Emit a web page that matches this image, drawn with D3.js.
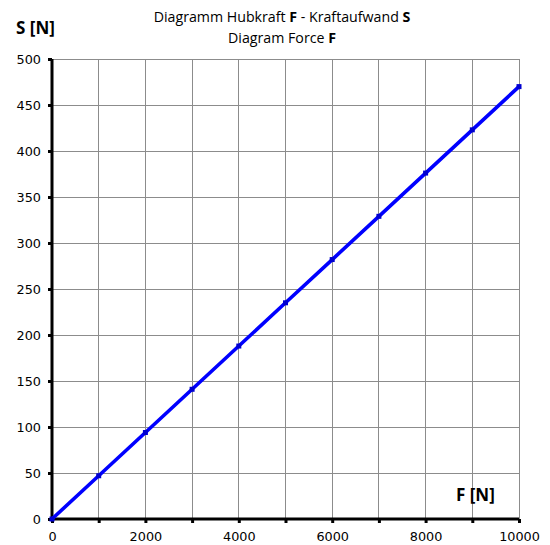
<!DOCTYPE html>
<html><head><meta charset="utf-8">
<script src="https://cdn.jsdelivr.net/npm/d3@7"></script>
<style>body{margin:0;background:#fff}</style>
</head><body>
<svg id="c" width="550" height="545"></svg>
<script>
const forceF = [0, 1000, 2000, 3000, 4000, 5000, 6000, 7000, 8000, 9000, 10000];
const effortS = [0, 47, 94, 141, 188, 235, 282, 329, 376, 423, 470];
const xTicks = [0, 2000, 4000, 6000, 8000, 10000];
const yTicks = [0, 50, 100, 150, 200, 250, 300, 350, 400, 450, 500];
const xGrid = [0, 1000, 2000, 3000, 4000, 5000, 6000, 7000, 8000, 9000, 10000];

const svg = d3.select("#c");
const x = d3.scaleLinear().domain([0, 10000]).range([52, 519]);
const y = d3.scaleLinear().domain([0, 500]).range([519, 59]);

// grid
svg.append("g").selectAll("line").data(xGrid).join("line")
  .attr("x1", d => x(d)).attr("x2", d => x(d)).attr("y1", y(0)).attr("y2", y(500))
  .attr("stroke", "#8c8c8c").attr("stroke-width", 1).attr("shape-rendering", "crispEdges");
svg.append("g").selectAll("line").data(yTicks).join("line")
  .attr("x1", x(0)).attr("x2", x(10000)).attr("y1", d => y(d)).attr("y2", d => y(d))
  .attr("stroke", "#8c8c8c").attr("stroke-width", 1).attr("shape-rendering", "crispEdges");

// axes
const xAxis = svg.append("g").attr("transform", `translate(0,${y(0)})`)
  .call(d3.axisBottom(x).tickValues(xGrid).tickSize(4).tickFormat(d => xTicks.includes(d) ? d : ""));
const yAxis = svg.append("g").attr("transform", `translate(${x(0)},0)`)
  .call(d3.axisLeft(y).tickValues(yTicks).tickSize(4).tickFormat(d => d));
[xAxis, yAxis].forEach(a => {
  a.select(".domain").attr("stroke", "#000").attr("stroke-width", 3);
  a.selectAll(".tick line").attr("stroke", "#000").attr("stroke-width", 3);
  a.selectAll("text").attr("font-family", "DejaVu Sans").attr("font-size", 12.8).attr("fill", "#000");
});
xAxis.select(".domain").attr("d", `M${x(0)},0H${x(10000)}`);
yAxis.select(".domain").attr("d", `M0,${y(0)}V${y(500)}`);
xAxis.selectAll("text").attr("dy", null).attr("y", 22);
yAxis.selectAll("text").attr("x", -11).attr("dy", "0.35em");

// line
const line = d3.line().x((d, i) => x(forceF[i])).y(d => y(d));
svg.append("path").datum(effortS).attr("d", line)
  .attr("fill", "none").attr("stroke", "#0000ff").attr("stroke-width", 3.6);
svg.append("g").selectAll("rect").data(effortS).join("rect")
  .attr("x", (d, i) => x(forceF[i]) - 2.5).attr("y", d => y(d) - 2.5)
  .attr("width", 5).attr("height", 5).attr("fill", "#0000d0");

// titles
const t = svg.append("text").attr("font-family", "Open Sans").attr("font-size", 14.2)
  .attr("text-anchor", "middle").attr("fill", "#000");
t.append("tspan").attr("x", 282).attr("y", 22).text("Diagramm Hubkraft ")
  .append("tspan").attr("font-weight", "bold").text("F");
t.append("tspan").text(" - Kraftaufwand ");
t.append("tspan").attr("font-weight", "bold").text("S");
const t2 = svg.append("text").attr("font-family", "Open Sans").attr("font-size", 14.2)
  .attr("text-anchor", "middle").attr("fill", "#000").attr("x", 282).attr("y", 43);
t2.append("tspan").text("Diagram Force ");
t2.append("tspan").attr("font-weight", "bold").text("F");

svg.append("text").attr("x", 16).attr("y", 34).attr("font-family", "Open Sans")
  .attr("font-weight", "bold").attr("font-size", 17).text("S [N]");
svg.append("text").attr("x", 456).attr("y", 501).attr("font-family", "Open Sans")
  .attr("font-weight", "bold").attr("font-size", 17).text("F [N]");
</script>
</body></html>
